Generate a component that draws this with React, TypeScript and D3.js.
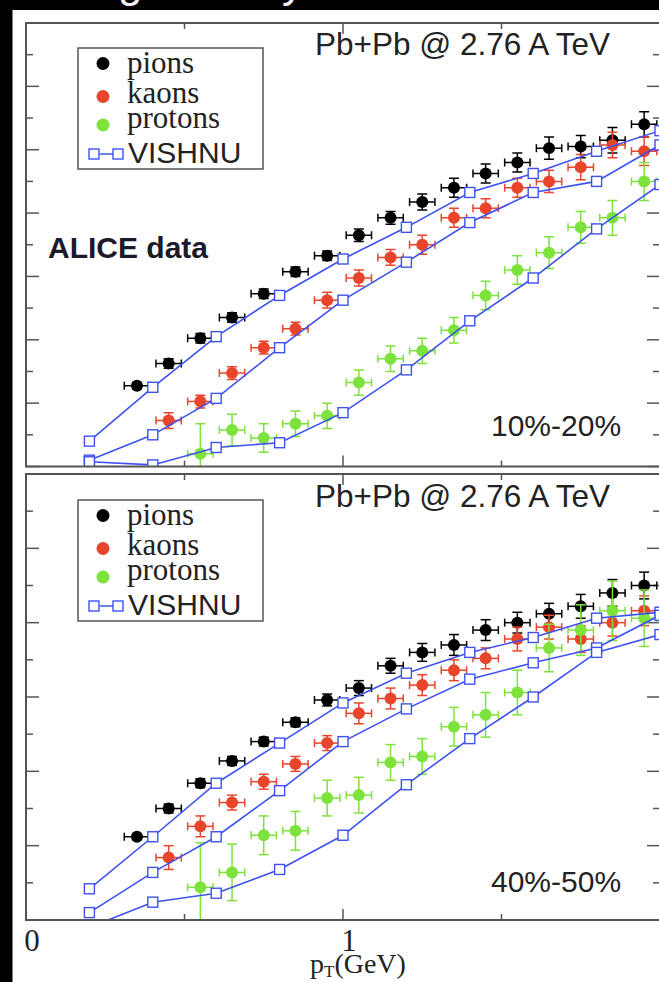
import React from 'react';
import * as d3 from 'd3';

// ---------- data ----------
const pionPt = [0.35, 0.45, 0.55, 0.65, 0.75, 0.85, 0.95, 1.05, 1.15, 1.25, 1.35, 1.45, 1.55, 1.65, 1.75, 1.85, 1.95];
const kaonPt = [0.45, 0.55, 0.65, 0.75, 0.85, 0.95, 1.05, 1.15, 1.25, 1.35, 1.45, 1.55, 1.65, 1.75, 1.85, 1.95];
const protonPt = [0.55, 0.65, 0.75, 0.85, 0.95, 1.05, 1.15, 1.25, 1.35, 1.45, 1.55, 1.65, 1.75, 1.85, 1.95];
const vishnuPt = [0.2, 0.4, 0.6, 0.8, 1.0, 1.2, 1.4, 1.6, 1.8, 2.0];
const ptErr = 0.04;

// 10%-20%
const pion1020 = [0.051, 0.065, 0.081, 0.094, 0.109, 0.123, 0.133, 0.146, 0.157, 0.167, 0.176, 0.185, 0.192, 0.201, 0.202, 0.206, 0.216];
const pion1020Err = [0.002, 0.003, 0.003, 0.003, 0.003, 0.003, 0.003, 0.004, 0.004, 0.005, 0.006, 0.006, 0.006, 0.007, 0.007, 0.008, 0.008];
const kaon1020 = [0.029, 0.041, 0.059, 0.075, 0.087, 0.105, 0.119, 0.132, 0.140, 0.157, 0.163, 0.176, 0.180, 0.189, 0.203, 0.199];
const kaon1020Err = [0.005, 0.004, 0.004, 0.004, 0.004, 0.005, 0.005, 0.005, 0.006, 0.006, 0.006, 0.006, 0.007, 0.008, 0.008, 0.009];
const proton1020 = [0.008, 0.023, 0.018, 0.027, 0.032, 0.053, 0.068, 0.073, 0.086, 0.108, 0.124, 0.135, 0.151, 0.157, 0.180];
const proton1020Err = [0.019, 0.010, 0.009, 0.008, 0.008, 0.008, 0.008, 0.008, 0.008, 0.009, 0.009, 0.010, 0.010, 0.011, 0.012];
const vishnuPion1020 = [0.016, 0.050, 0.082, 0.108, 0.131, 0.151, 0.173, 0.185, 0.199, 0.212];
const vishnuKaon1020 = [0.004, 0.020, 0.043, 0.075, 0.105, 0.129, 0.154, 0.173, 0.180, 0.203];
const vishnuProton1020 = [0.003, 0.001, 0.012, 0.015, 0.034, 0.061, 0.092, 0.119, 0.150, 0.178];

// 40%-50%
const pion4050 = [0.056, 0.075, 0.092, 0.107, 0.120, 0.133, 0.148, 0.156, 0.171, 0.180, 0.185, 0.195, 0.200, 0.206, 0.211, 0.220, 0.225];
const pion4050Err = [0.002, 0.003, 0.003, 0.003, 0.003, 0.003, 0.004, 0.005, 0.005, 0.006, 0.007, 0.007, 0.007, 0.007, 0.008, 0.009, 0.009];
const kaon4050 = [0.042, 0.063, 0.079, 0.093, 0.105, 0.119, 0.139, 0.149, 0.158, 0.168, 0.176, 0.189, 0.197, 0.189, 0.200, 0.208];
const kaon4050Err = [0.008, 0.007, 0.005, 0.005, 0.005, 0.005, 0.007, 0.007, 0.007, 0.007, 0.007, 0.008, 0.008, 0.009, 0.009, 0.010];
const proton4050 = [0.022, 0.032, 0.057, 0.060, 0.082, 0.084, 0.106, 0.110, 0.130, 0.138, 0.153, 0.183, 0.195, 0.208, 0.203];
const proton4050Err = [0.030, 0.019, 0.013, 0.013, 0.012, 0.012, 0.012, 0.012, 0.013, 0.015, 0.015, 0.016, 0.017, 0.020, 0.019];
const vishnuPion4050 = [0.021, 0.056, 0.092, 0.119, 0.146, 0.166, 0.180, 0.190, 0.203, 0.207];
const vishnuKaon4050 = [0.005, 0.032, 0.056, 0.087, 0.120, 0.142, 0.162, 0.173, 0.183, 0.205];
const vishnuProton4050 = [-0.005, 0.012, 0.018, 0.034, 0.057, 0.091, 0.122, 0.150, 0.180, 0.192];

const xTicks = [0, 0.5, 1, 1.5, 2];
const xTickLabels = ['0', '1', '2'];
const legendLabels = ['pions', 'kaons', 'protons'];
const headerText = 'Pb+Pb @ 2.76 A TeV';

// ---------- styles ----------
const W = 659;
const H = 982;
const C_PI = '#000000';
const C_K = '#e8452c';
const C_P = '#7ee23c';
const C_V = '#3d52f0';
const FRAME = '#555555';
const SANS = '"Liberation Sans", Arial, sans-serif';
const SERIF = '"Liberation Serif", "Times New Roman", serif';

const xScale = d3.scaleLinear().domain([0, 2]).range([26, 660]);

type Series = { pt: number[]; v: number[]; err: number[]; color: string };

function DataSeries({ s, y }: { s: Series; y: d3.ScaleLinear<number, number> }) {
  return (
    <g>
      {s.pt.map((p, i) => {
        const cx = xScale(p);
        const cy = y(s.v[i]);
        const y1 = y(s.v[i] - s.err[i]);
        const y2 = y(s.v[i] + s.err[i]);
        const x1 = xScale(p - ptErr);
        const x2 = xScale(p + ptErr);
        return (
          <g key={i} stroke={s.color} strokeWidth={1.5}>
            <line x1={x1} x2={x2} y1={cy} y2={cy} />
            <line x1={x1} x2={x1} y1={cy - 4} y2={cy + 4} />
            <line x1={x2} x2={x2} y1={cy - 4} y2={cy + 4} />
            <line x1={cx} x2={cx} y1={y1} y2={y2} />
            <line x1={cx - 5} x2={cx + 5} y1={y1} y2={y1} />
            <line x1={cx - 5} x2={cx + 5} y1={y2} y2={y2} />
            <circle cx={cx} cy={cy} r={6} fill={s.color} stroke="none" />
          </g>
        );
      })}
    </g>
  );
}

function Vishnu({ v, y }: { v: number[]; y: d3.ScaleLinear<number, number> }) {
  const pts: [number, number][] = vishnuPt.map((p, i) => [p, v[i]]);
  const line = d3.line<[number, number]>().x((d) => xScale(d[0])).y((d) => y(d[1]));
  return (
    <g>
      <path d={line(pts) || ''} fill="none" stroke={C_V} strokeWidth={1.6} />
      {pts.map((d, i) => (
        <rect key={i} x={xScale(d[0]) - 5} y={y(d[1]) - 5} width={10} height={10} fill="#fff" stroke={C_V} strokeWidth={1.4} />
      ))}
    </g>
  );
}

type PanelProps = {
  id: string;
  top: number;
  bottom: number;
  ymax: number;
  minor: number;
  series: Series[];
  vishnu: number[][];
  legendTop: number;
  headerY: number;
  centrality: string;
  centralityY: number;
};

function Panel(p: PanelProps) {
  const y = d3.scaleLinear().domain([0, p.ymax]).range([p.bottom, p.top]);
  const left = xScale(0);
  const right = xScale(2);
  const yTicks = d3.range(0, p.ymax + p.minor / 2, p.minor);
  const lt = p.legendTop;
  return (
    <g>
      <defs>
        <clipPath id={p.id}>
          <rect x={left} y={p.top} width={right - left} height={p.bottom - p.top} />
        </clipPath>
      </defs>
      {yTicks.map((t, i) => {
        const len = i % 2 === 0 ? 13 : 7;
        const yy = y(t);
        return (
          <g key={i} stroke={FRAME} strokeWidth={1.5}>
            <line x1={left} x2={left + len} y1={yy} y2={yy} />
            <line x1={right} x2={right - len} y1={yy} y2={yy} />
          </g>
        );
      })}
      {xTicks.map((t, i) => {
        const len = Number.isInteger(t) ? 11 : 6;
        const xx = xScale(t);
        return (
          <g key={i} stroke={FRAME} strokeWidth={1.5}>
            <line x1={xx} x2={xx} y1={p.bottom} y2={p.bottom - len} />
            <line x1={xx} x2={xx} y1={p.top} y2={p.top + len} />
          </g>
        );
      })}
      <g clipPath={`url(#${p.id})`}>
        {p.series.map((s, i) => (
          <DataSeries key={i} s={s} y={y} />
        ))}
        {p.vishnu.map((v, i) => (
          <Vishnu key={i} v={v} y={y} />
        ))}
      </g>
      <rect x={left} y={p.top} width={right - left} height={p.bottom - p.top} fill="none" stroke={FRAME} strokeWidth={2} />
      <text x={315} y={p.headerY} fontFamily={SANS} fontSize={31.5} fill="#222">
        {headerText}
      </text>
      <text x={491} y={p.centralityY} fontFamily={SANS} fontSize={30} fill="#222">
        {p.centrality}
      </text>
      <rect x={78} y={lt} width={185} height={121} fill="#fff" stroke={FRAME} strokeWidth={1.5} />
      {legendLabels.map((lab, i) => {
        const cy = lt + [15.5, 48.5, 77][i];
        const by = lt + [24.5, 54.5, 79.5][i];
        return (
          <g key={lab}>
            <circle cx={103} cy={cy} r={6.5} fill={p.series[i].color} />
            <text x={127} y={by} fontFamily={SERIF} fontSize={31} fill="#222">
              {lab}
            </text>
          </g>
        );
      })}
      <g>
        <line x1={100} x2={113} y1={lt + 106} y2={lt + 106} stroke={C_V} strokeWidth={1.5} />
        <rect x={89} y={lt + 101} width={10} height={10} fill="#fff" stroke={C_V} strokeWidth={1.4} />
        <rect x={113} y={lt + 101} width={10} height={10} fill="#fff" stroke={C_V} strokeWidth={1.4} />
        <text x={128} y={lt + 115} fontFamily={SANS} fontSize={30} fill="#222">
          VISHNU
        </text>
      </g>
    </g>
  );
}

export default function App() {
  const top: PanelProps = {
    id: 'clipTop',
    top: 23,
    bottom: 466.5,
    ymax: 0.28,
    minor: 0.02,
    series: [
      { pt: pionPt, v: pion1020, err: pion1020Err, color: C_PI },
      { pt: kaonPt, v: kaon1020, err: kaon1020Err, color: C_K },
      { pt: protonPt, v: proton1020, err: proton1020Err, color: C_P },
    ],
    vishnu: [vishnuPion1020, vishnuKaon1020, vishnuProton1020],
    legendTop: 48,
    headerY: 55,
    centrality: '10%-20%',
    centralityY: 436,
  };
  const bottom: PanelProps = {
    id: 'clipBottom',
    top: 474,
    bottom: 920,
    ymax: 0.3,
    minor: 0.025,
    series: [
      { pt: pionPt, v: pion4050, err: pion4050Err, color: C_PI },
      { pt: kaonPt, v: kaon4050, err: kaon4050Err, color: C_K },
      { pt: protonPt, v: proton4050, err: proton4050Err, color: C_P },
    ],
    vishnu: [vishnuPion4050, vishnuKaon4050, vishnuProton4050],
    legendTop: 500,
    headerY: 507,
    centrality: '40%-50%',
    centralityY: 892,
  };
  return (
    <svg width={W} height={H} style={{ position: 'absolute', left: 0, top: 0, display: 'block' }}>
      <rect x={0} y={0} width={W} height={H} fill="#000" />
      <rect x={12.5} y={10} width={W - 12.5} height={H - 10} fill="#fff" />
      <text x={118} y={-3} fontFamily={SANS} fontSize={44} fill="#f4f4ff">g</text>
      <text x={282} y={-3} fontFamily={SANS} fontSize={44} fill="#f4f4ff">y</text>
      <Panel {...top} />
      <Panel {...bottom} />
      <text x={48} y={258} fontFamily={SANS} fontSize={30} fontWeight="bold" fill="#1a1a2a">
        ALICE data
      </text>
      {xTickLabels.map((l, i) => (
        <text key={l} x={xScale(i) + 6} y={951} textAnchor="middle" fontFamily={SERIF} fontSize={31} fill="#222">
          {l}
        </text>
      ))}
      <text x={310} y={973} fontFamily={SERIF} fontSize={28} fill="#222">
        p<tspan fontSize={17} dy={4}>T</tspan><tspan dy={-4}>(GeV)</tspan>
      </text>
    </svg>
  );
}
